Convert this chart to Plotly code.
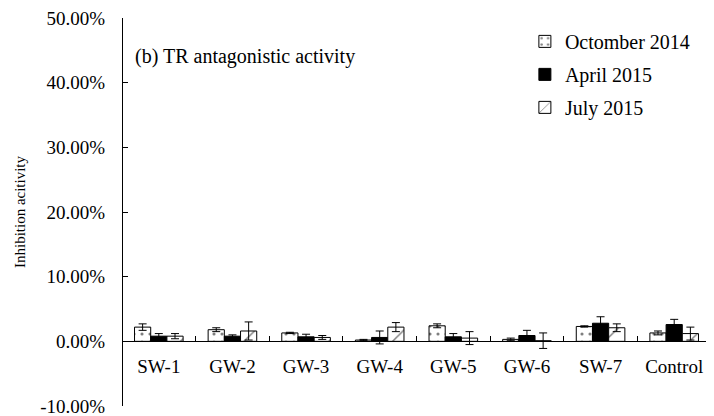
import plotly.graph_objects as go

categories = ["SW-1", "GW-2", "GW-3", "GW-4", "GW-5", "GW-6", "SW-7", "Control"]
oct2014 = [0.022, 0.018, 0.013, 0.002, 0.024, 0.003, 0.023, 0.013]
oct2014_err = [0.005, 0.003, 0.001, 0.001, 0.003, 0.002, 0.001, 0.003]
apr2015 = [0.008, 0.008, 0.007, 0.006, 0.007, 0.009, 0.028, 0.026]
apr2015_err = [0.004, 0.002, 0.004, 0.010, 0.005, 0.008, 0.010, 0.008]
jul2015 = [0.008, 0.016, 0.006, 0.022, 0.005, 0.001, 0.021, 0.012]
jul2015_err = [0.004, 0.014, 0.003, 0.007, 0.010, 0.012, 0.006, 0.010]
series_names = ["Octomber 2014", "April 2015", "July 2015"]
y_ticks = [-0.1, 0.0, 0.1, 0.2, 0.3, 0.4, 0.5]
y_tick_labels = ["-10.00%", "0.00%", "10.00%", "20.00%", "30.00%", "40.00%", "50.00%"]

FONT = "Liberation Serif, Times New Roman, serif"

fig = go.Figure()
specs = [
    (oct2014, oct2014_err, dict(shape=".", fgcolor="black", bgcolor="white", size=8, solidity=0.12)),
    (apr2015, apr2015_err, None),
    (jul2015, jul2015_err, dict(shape="/", fgcolor="black", bgcolor="white", size=15, solidity=0.1)),
]
for i, (vals, errs, pat) in enumerate(specs):
    marker = dict(color="black" if pat is None else "white", line=dict(color="black", width=1))
    if pat is not None:
        marker["pattern"] = pat
    fig.add_trace(go.Bar(
        x=categories, y=vals, name=series_names[i],
        marker=marker, legendgroup=str(i),
        error_y=dict(type="data", array=errs, visible=True, color="black", thickness=1, width=4),
    ))

fig.update_layout(
    width=706, height=408,
    margin=dict(l=114, r=3, t=10, b=10, autoexpand=False),
    paper_bgcolor="white", plot_bgcolor="white",
    font=dict(family=FONT, size=19, color="black"),
    barmode="group", bargap=0.34, bargroupgap=0,
    showlegend=True,
    legend=dict(x=0.684, y=0.99, xanchor="left", yanchor="top",
                font=dict(family=FONT, size=20, color="black"),
                tracegroupgap=4, itemwidth=30, bgcolor="rgba(0,0,0,0)"),
    xaxis=dict(anchor="free", position=1/6, showline=True, linecolor="black", linewidth=1,
               ticks="inside", tickson="boundaries", ticklen=5, tickcolor="black",
               ticklabelstandoff=8, showgrid=False, zeroline=False, automargin=False,
               ticklabeloverflow="allow",
               tickfont=dict(family=FONT, size=19)),
    yaxis=dict(range=[-0.1, 0.5], tickvals=y_ticks, ticktext=y_tick_labels,
               anchor="free", position=0,
               showline=True, linecolor="black", linewidth=1,
               ticks="inside", ticklen=5, tickcolor="black", ticklabelstandoff=13,
               showgrid=False, zeroline=False, automargin=False,
               ticklabeloverflow="allow",
               tickfont=dict(family=FONT, size=19),
               title=dict(text="Inhibition acitivity", font=dict(family=FONT, size=15), standoff=10)),
    annotations=[dict(text="(b) TR antagonistic activity", xref="paper", yref="paper",
                      x=0.018, y=0.9, xanchor="left", yanchor="middle", showarrow=False,
                      font=dict(family=FONT, size=20, color="black"))],
)

fig.write_html("out.html")
